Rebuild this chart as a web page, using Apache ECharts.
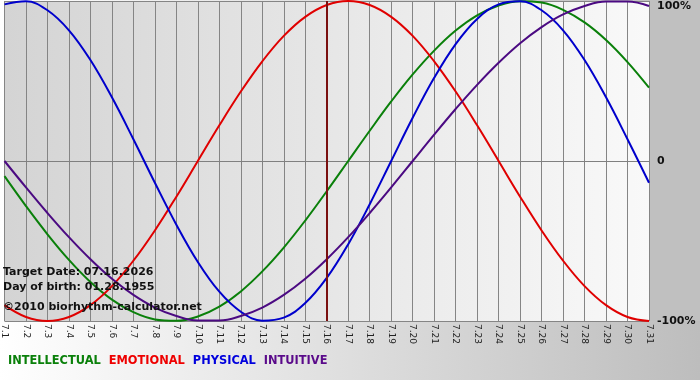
<!DOCTYPE html>
<html><head><meta charset="utf-8">
<script src="https://cdn.jsdelivr.net/npm/echarts@6/dist/echarts.min.js"></script>
<style>html,body{margin:0;padding:0;background:#fff;}#c{width:700px;height:380px;}</style>
</head><body><div id="c"></div>
<script>
const days = ['7.1','7.2','7.3','7.4','7.5','7.6','7.7','7.8','7.9','7.10','7.11','7.12','7.13','7.14','7.15','7.16','7.17','7.18','7.19','7.20','7.21','7.22','7.23','7.24','7.25','7.26','7.27','7.28','7.29','7.30','7.31'];
const targetDay = '7.16';
const intellectual = [-0.095,-0.282,-0.458,-0.618,-0.756,-0.866,-0.945,-0.990,-0.999,-0.972,-0.910,-0.815,-0.690,-0.541,-0.372,-0.189,0,0.189,0.372,0.541,0.690,0.815,0.910,0.972,0.999,0.990,0.945,0.866,0.756,0.618,0.458];
const emotional = [-0.901,-0.975,-1,-0.975,-0.901,-0.782,-0.623,-0.434,-0.223,0,0.223,0.434,0.623,0.782,0.901,0.975,1,0.975,0.901,0.782,0.623,0.434,0.223,0,-0.223,-0.434,-0.623,-0.782,-0.901,-0.975,-1];
const physical = [0.979,0.998,0.942,0.817,0.631,0.398,0.136,-0.136,-0.398,-0.631,-0.817,-0.942,-0.998,-0.979,-0.888,-0.731,-0.520,-0.270,0,0.270,0.520,0.731,0.888,0.979,0.998,0.942,0.817,0.631,0.398,0.136,-0.136];
const intuitive = [0,-0.165,-0.325,-0.476,-0.614,-0.736,-0.837,-0.916,-0.969,-0.997,-0.997,-0.969,-0.916,-0.837,-0.736,-0.614,-0.476,-0.325,-0.165,0,0.165,0.325,0.476,0.614,0.736,0.837,0.916,0.969,0.997,0.997,0.969];
const yTickLabels = {'-1':'-100%','0':'0','1':'100%'};
const infoLines = ['Target Date: 07.16.2026','Day of birth: 01.28.1955','\u00a92010 biorhythm-calculator.net'];

const chart = echarts.init(document.getElementById('c'), null, {renderer:'canvas'});
const lineStyle = (c) => ({color:c, width:2});
const font = 'DejaVu Sans, Verdana, sans-serif';
chart.setOption({
  animation:false,
  backgroundColor:{type:'linear',x:0,y:0,x2:1,y2:0,colorStops:[{offset:0,color:'#ffffff'},{offset:1,color:'#bdbdbd'}]},
  grid:{left:1,right:51,top:1,bottom:59,show:true,borderWidth:0,
    backgroundColor:{type:'linear',x:0,y:0,x2:1,y2:0,colorStops:[{offset:0,color:'#d4d4d4'},{offset:1,color:'#f9f9f9'}]}},
  legend:{left:3,top:356,padding:0,itemWidth:0,itemHeight:0,itemGap:3,icon:'none',selectedMode:false,
    textStyle:{fontFamily:font,fontWeight:'bold',fontSize:11.4},
    data:[{name:'INTELLECTUAL',textStyle:{color:'#0a800a'}},{name:'EMOTIONAL',textStyle:{color:'#ee0000'}},
          {name:'PHYSICAL',textStyle:{color:'#0000dd'}},{name:'INTUITIVE',textStyle:{color:'#5a0a8a'}}]},
  graphic:[
    {type:'rect',left:650,top:0,shape:{width:50,height:321},style:{fill:'#c0c0c0'},z:-1,silent:true},
    {type:'text',left:3,top:267,style:{text:infoLines[0],fill:'#111',font:'bold 11px DejaVu Sans'},z:100},
    {type:'text',left:3,top:282,style:{text:infoLines[1],fill:'#111',font:'bold 11px DejaVu Sans'},z:100},
    {type:'text',left:3,top:302,style:{text:infoLines[2],fill:'#111',font:'bold 11px DejaVu Sans'},z:100}
  ],
  xAxis:{type:'category',data:days,boundaryGap:false,
    axisLine:{show:true,lineStyle:{color:'#808080',width:1}},
    axisTick:{show:true,interval:0,length:4,lineStyle:{color:'#808080'}},
    axisLabel:{interval:0,rotate:-90,margin:3,fontSize:9,fontFamily:font,color:'#222'},
    splitLine:{show:true,interval:0,lineStyle:{color:'#858585',width:1}}},
  yAxis:{type:'value',position:'right',min:-1,max:1,interval:1,
    axisLine:{show:false},axisTick:{show:false},
    axisLabel:{margin:8,fontSize:11,fontWeight:'bold',fontFamily:font,color:'#111',
      verticalAlignMaxLabel:'top',
      formatter:(v)=>yTickLabels[String(v)]},
    splitLine:{show:true,lineStyle:{color:'#858585',width:1}}},
  series:[
    {name:'INTELLECTUAL',type:'line',data:intellectual,smooth:0.4,symbol:'none',lineStyle:lineStyle('#0a800a'),itemStyle:{color:'#0a800a'}},
    {name:'EMOTIONAL',type:'line',data:emotional,smooth:0.4,symbol:'none',lineStyle:lineStyle('#e00000'),itemStyle:{color:'#e00000'},
      markLine:{silent:true,symbol:'none',label:{show:false},lineStyle:{color:'#7a1010',width:2,type:'solid'},data:[{xAxis:targetDay}]}},
    {name:'PHYSICAL',type:'line',data:physical,smooth:0.4,symbol:'none',lineStyle:lineStyle('#0000cc'),itemStyle:{color:'#0000cc'}},
    {name:'INTUITIVE',type:'line',data:intuitive,smooth:0.4,symbol:'none',lineStyle:lineStyle('#4b0a82'),itemStyle:{color:'#4b0a82'}}
  ]
});
</script></body></html>
